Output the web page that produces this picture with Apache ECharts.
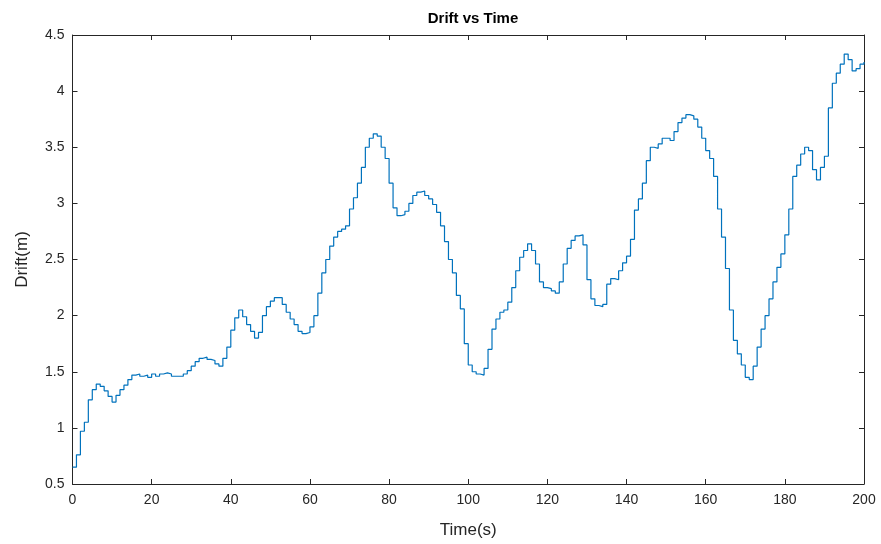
<!DOCTYPE html>
<html>
<head>
<meta charset="utf-8">
<script src="https://cdn.jsdelivr.net/npm/echarts@6/dist/echarts.min.js"></script>
<style>
html,body{margin:0;padding:0;background:#fff;}
#chart{width:881px;height:544px;}
</style>
</head>
<body>
<div id="chart"></div>
<script>
// Drift (m) sampled once per second, t = 0..200 s
const drift = [
0.65,0.76,0.97,1.05,1.25,1.34,1.39,1.37,1.33,1.28,
1.23,1.29,1.34,1.38,1.43,1.47,1.48,1.46,1.47,1.45,
1.48,1.46,1.48,1.49,1.48,1.46,1.46,1.46,1.48,1.51,
1.55,1.59,1.62,1.63,1.61,1.60,1.57,1.55,1.62,1.72,
1.87,1.98,2.05,1.99,1.92,1.86,1.80,1.85,2.00,2.08,
2.13,2.16,2.16,2.10,2.03,1.97,1.92,1.86,1.84,1.85,
1.90,2.00,2.20,2.38,2.50,2.62,2.70,2.75,2.77,2.80,
2.95,3.05,3.18,3.32,3.50,3.58,3.62,3.60,3.50,3.40,
3.18,2.96,2.89,2.90,2.93,3.00,3.07,3.10,3.11,3.07,
3.04,2.99,2.92,2.80,2.66,2.50,2.38,2.18,2.06,1.75,
1.56,1.50,1.48,1.47,1.53,1.70,1.88,1.97,2.03,2.05,
2.12,2.25,2.40,2.52,2.58,2.64,2.58,2.46,2.30,2.25,
2.24,2.22,2.20,2.30,2.46,2.60,2.67,2.71,2.72,2.63,
2.32,2.15,2.09,2.08,2.10,2.28,2.33,2.32,2.40,2.47,
2.53,2.68,2.94,3.04,3.18,3.38,3.50,3.49,3.53,3.58,
3.58,3.56,3.64,3.72,3.76,3.79,3.78,3.75,3.68,3.58,
3.47,3.40,3.24,2.95,2.70,2.42,2.05,1.78,1.66,1.56,
1.45,1.43,1.55,1.72,1.88,2.00,2.15,2.30,2.43,2.55,
2.72,2.95,3.24,3.34,3.44,3.50,3.47,3.30,3.21,3.32,
3.42,3.85,4.07,4.16,4.24,4.33,4.28,4.18,4.20,4.24,
4.26
];
const times = drift.map((_, i) => i);
const xTicks = [0,20,40,60,80,100,120,140,160,180,200];
const yTicks = [0.5,1,1.5,2,2.5,3,3.5,4,4.5];

const axisColor = '#262626';
const font = 'Liberation Sans, Arial, Helvetica, sans-serif';

const chart = echarts.init(document.getElementById('chart'), null, {renderer:'canvas'});
const axisCommon = {
  axisLine:{show:true, onZero:false, lineStyle:{color:axisColor, width:1}},
  axisTick:{show:true, inside:true, length:5, lineStyle:{color:axisColor, width:1}},
  splitLine:{show:false}
};
chart.setOption({
  animation:false,
  backgroundColor:'#ffffff',
  title:{
    text:'Drift vs Time', left:468, top:6, textAlign:'center',
    textStyle:{fontFamily:font, fontSize:15, fontWeight:'bold', color:'#000'}
  },
  grid:{left:72.5, right:17, top:35, bottom:60, containLabel:false},
  xAxis:[
    Object.assign({
      type:'value', min:xTicks[0], max:xTicks[xTicks.length-1], interval:20, position:'bottom',
      name:'Time(s)', nameLocation:'middle', nameGap:38,
      nameTextStyle:{fontFamily:font, fontSize:17, color:axisColor},
      axisLabel:{fontFamily:font, fontSize:14, color:axisColor, margin:9}
    }, axisCommon),
    Object.assign({
      type:'value', min:xTicks[0], max:xTicks[xTicks.length-1], interval:20, position:'top',
      axisLabel:{show:false}
    }, axisCommon)
  ],
  yAxis:[
    Object.assign({
      type:'value', min:yTicks[0], max:yTicks[yTicks.length-1], interval:0.5, position:'left',
      name:'Drift(m)', nameLocation:'middle', nameGap:42, nameRotate:90,
      nameTextStyle:{fontFamily:font, fontSize:17, color:axisColor},
      axisLabel:{fontFamily:font, fontSize:14, color:axisColor, margin:8}
    }, axisCommon),
    Object.assign({
      type:'value', min:yTicks[0], max:yTicks[yTicks.length-1], interval:0.5, position:'right',
      axisLabel:{show:false}
    }, axisCommon)
  ],
  series:[{
    type:'line', step:'end', showSymbol:false, symbol:'none',
    xAxisIndex:0, yAxisIndex:0,
    data: times.map((t, i) => [t, drift[i]]),
    lineStyle:{color:'#0072BD', width:1.2},
    clip:true
  }]
});
</script>
</body>
</html>
